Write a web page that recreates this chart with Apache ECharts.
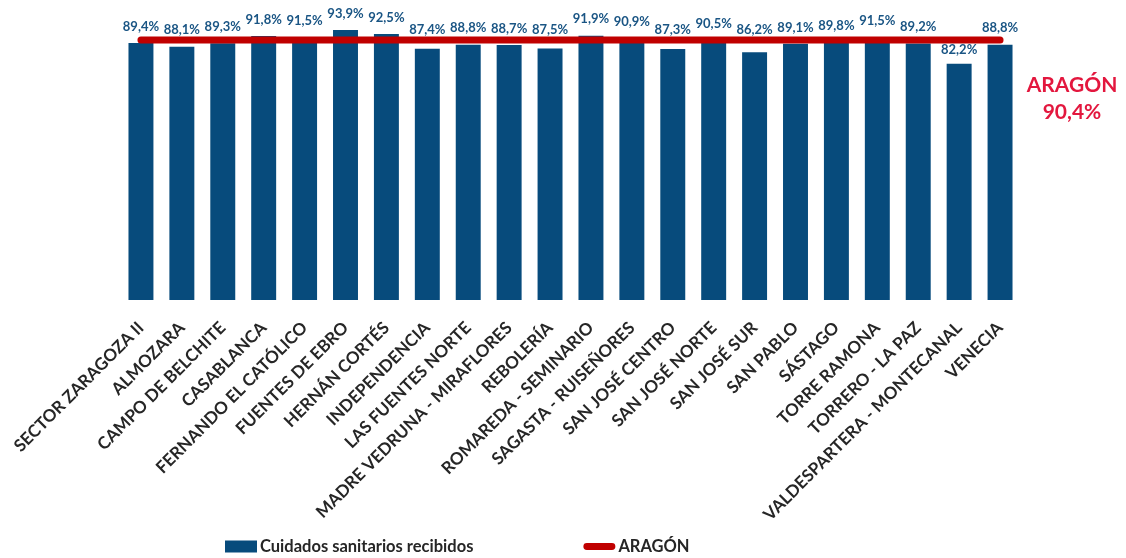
<!DOCTYPE html>
<html>
<head>
<meta charset="utf-8">
<script src="https://cdn.jsdelivr.net/npm/echarts@6/dist/echarts.min.js"></script>
<style>
  html, body { margin: 0; padding: 0; background: #ffffff; }
  #chart { width: 1126px; height: 558px; }
</style>
</head>
<body>
<div id="chart"></div>
<script>
// Zonas de salud
const categories = [
  'SECTOR ZARAGOZA II', 'ALMOZARA', 'CAMPO DE BELCHITE', 'CASABLANCA',
  'FERNANDO EL CATÓLICO', 'FUENTES DE EBRO', 'HERNÁN CORTÉS', 'INDEPENDENCIA',
  'LAS FUENTES NORTE', 'MADRE VEDRUNA - MIRAFLORES', 'REBOLERÍA',
  'ROMAREDA - SEMINARIO', 'SAGASTA - RUISEÑORES', 'SAN JOSÉ CENTRO',
  'SAN JOSÉ NORTE', 'SAN JOSÉ SUR', 'SAN PABLO', 'SÁSTAGO', 'TORRE RAMONA',
  'TORRERO - LA PAZ', 'VALDESPARTERA - MONTECANAL', 'VENECIA'
];

// % Cuidados sanitarios recibidos por zona
const cuidados = [
  89.4, 88.1, 89.3, 91.8, 91.5, 93.9, 92.5, 87.4, 88.8, 88.7, 87.5,
  91.9, 90.9, 87.3, 90.5, 86.2, 89.1, 89.8, 91.5, 89.2, 82.2, 88.8
];

// Referencia autonómica
const aragon = 90.4;

const seriesNames = ['Cuidados sanitarios recibidos', 'ARAGÓN'];

const fmt = v => v.toFixed(1).replace('.', ',') + '%';

const chart = echarts.init(document.getElementById('chart'), null, { renderer: 'canvas' });

const labelFont = { fontFamily: 'Lato', fontWeight: 'bold', fontSize: 13, color: '#1a5584' };

chart.setOption({
  animation: false,
  backgroundColor: '#ffffff',
  textStyle: { fontFamily: 'Lato' },
  grid: { left: 120.5, right: 105.5, top: 12.5, bottom: 258 },
  legend: {
    left: 225,
    top: 538,
    padding: 0,
    itemGap: 110,
    itemWidth: 32,
    itemHeight: 12,
    textStyle: { fontFamily: 'Lato', fontWeight: 'bold', fontSize: 16.5, color: '#262626', padding: [0, 0, 0, -2] },
    data: [
      { name: seriesNames[0], icon: 'rect' },
      { name: seriesNames[1], icon: 'path://M4,0 L33,0 A4,4 0 0 1 33,8 L4,8 A4,4 0 0 1 4,0 Z' }
    ]
  },
  xAxis: {
    type: 'category',
    data: categories,
    axisLine: { show: false },
    axisTick: { show: false },
    axisLabel: {
      interval: 0,
      rotate: 45,
      margin: 25,
      fontFamily: 'Lato',
      fontWeight: 'bold',
      fontSize: 17,
      color: '#262626'
    }
  },
  yAxis: {
    type: 'value',
    min: 0,
    max: 100,
    show: false,
    splitLine: { show: false }
  },
  series: [
    {
      name: seriesNames[0],
      type: 'bar',
      data: cuidados,
      barCategoryGap: '39%',
      itemStyle: { color: '#074b7c' },
      label: Object.assign({
        show: true,
        position: 'top',
        distance: 10,
        formatter: p => fmt(p.value)
      }, labelFont),
      z: 2
    },
    {
      name: seriesNames[1],
      type: 'line',
      data: categories.map(() => aragon),
      symbol: 'none',
      lineStyle: { color: '#c00000', width: 7, cap: 'round' },
      itemStyle: { color: '#c00000' },
      z: 3
    }
  ],
  graphic: [
    {
      type: 'text',
      left: 1026,
      top: 72,
      style: {
        text: 'ARAGÓN\n' + fmt(aragon),
        fontFamily: 'Lato',
        fontWeight: 'bold',
        fontSize: 21,
        lineHeight: 27,
        fill: '#e3173e',
        textAlign: 'center',
        width: 92
      }
    }
  ]
});

// Keep value labels clear of the regional line: labels of bars that end
// just under the line sit above it; labels of bars far below stay close.
const lineY = chart.convertToPixel({ yAxisIndex: 0 }, aragon);
const halfText = 7;
const barData = cuidados.map(v => {
  const top = chart.convertToPixel({ yAxisIndex: 0 }, v);
  let distance = 10;
  if (top - 10 - halfText > lineY - 10) {
    distance = (top - lineY > 20) ? 7 : Math.max(10, top - (lineY - 11) - halfText);
  }
  return { value: v, label: { distance: distance } };
});
chart.setOption({ series: [{ data: barData }] });
</script>
</body>
</html>
